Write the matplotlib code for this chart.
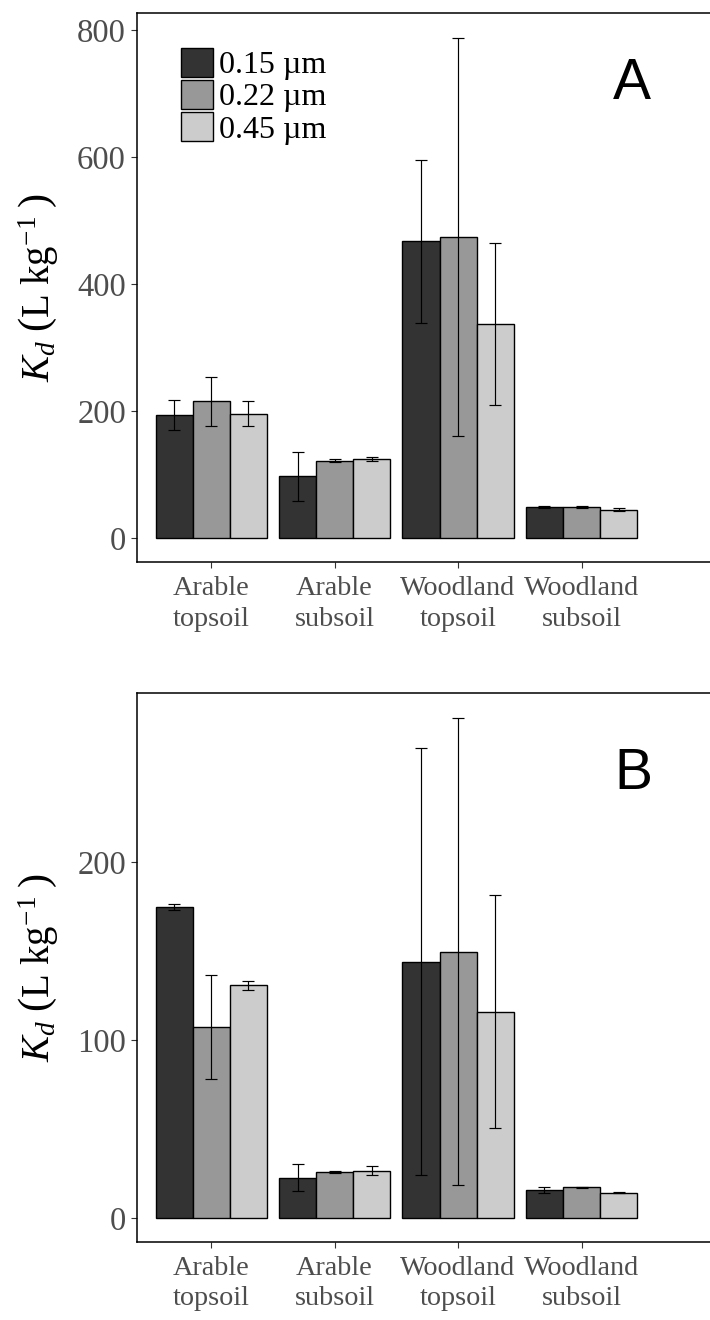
import numpy as np
import matplotlib
matplotlib.use('Agg')
import matplotlib.pyplot as plt

plt.rcParams['font.family'] = ['Liberation Serif', 'DejaVu Serif']
plt.rcParams['mathtext.fontset'] = 'custom'
plt.rcParams['mathtext.rm'] = 'Liberation Serif'
plt.rcParams['mathtext.it'] = 'Liberation Serif:italic'
plt.rcParams['mathtext.bf'] = 'Liberation Serif:bold'

# --- Data: Kd means and error bars per soil, by filter pore size ---
soils = ['Arable\ntopsoil', 'Arable\nsubsoil', 'Woodland\ntopsoil', 'Woodland\nsubsoil']
pore_sizes = ['0.15 µm', '0.22 µm', '0.45 µm']
fills = ['#333333', '#989898', '#CCCCCC']

# panel A
kd_a = [[194, 97, 467, 49.3],
        [215, 122, 474, 49.0],
        [196, 125, 337, 44.6]]
err_a = [[24, 39, 128, 1.5],
         [38, 2, 314, 1.0],
         [19, 3, 127, 2.5]]

# panel B
kd_b = [[175, 22.7, 144.2, 15.9],
        [107.6, 26.0, 149.7, 17.6],
        [131, 26.8, 116, 14.4]]
err_b = [[1.5, 7.6, 120, 1.5],
         [29.3, 0.5, 131.2, 0.3],
         [2.5, 2.7, 65.5, 0.3]]

W, H = 710, 1320
fig = plt.figure(figsize=(W / 100, H / 100), dpi=100)

left_px, right_px = 137, 720
x = np.arange(len(soils))
bw = 0.3
tick_grey = '#4D4D4D'

# zero-width stacked kerns make \left( \right) grow taller
ylab = (r'$K_{d}\ \left(\mathrm{L\ kg}^{-1}'
        r'\genfrac{}{}{0}{}{\,}{\,}\right)$')


def draw_panel(ax, vals, errs, ylim, yticks, tag, tag_xy, legend=False):
    handles = []
    for i, (v, e) in enumerate(zip(vals, errs)):
        pos = x + (i - 1) * bw
        h = ax.bar(pos, v, width=bw, color=fills[i], edgecolor='black',
                   linewidth=1.0, label=pore_sizes[i], zorder=2)
        handles.append(h)
        ax.errorbar(pos, v, yerr=e, fmt='none', ecolor='black',
                    elinewidth=0.85, capsize=4.4, capthick=0.85, zorder=3)

    ax.set_xlim(-0.6, (right_px - 211) / 123.5)
    ax.set_ylim(*ylim)
    ax.set_xticks(x)
    ax.set_xticklabels(soils, fontsize=20.3, color=tick_grey, linespacing=1.3)
    ax.set_yticks(yticks)
    ax.set_yticklabels([str(t) for t in yticks], fontsize=23.5, color=tick_grey)
    ax.tick_params(axis='both', length=4, width=0.8, color='#333333')
    ax.tick_params(axis='y', pad=4)
    ax.tick_params(axis='x', pad=6)
    for sp in ax.spines.values():
        sp.set_linewidth(1.1)
        sp.set_color('black')

    ax.set_ylabel(ylab, fontsize=28)
    ax.yaxis.set_label_coords(-0.13, 0.5)

    ax.text(tag_xy[0], tag_xy[1], tag, transform=ax.transAxes,
            fontsize=41, family='Liberation Sans', ha='center', va='center')

    if legend:
        ax.legend(handles=handles, loc='upper left',
                  bbox_to_anchor=(44 / (right_px - left_px), 1 - 35 / 549),
                  frameon=False, fontsize=23, borderpad=0, borderaxespad=0,
                  handlelength=1.0, handleheight=1.0, labelspacing=0.0,
                  handletextpad=0.2)


ax_w = (right_px - left_px) / W
ax_h = 549 / H
ax_a = fig.add_axes([left_px / W, 1 - 562 / H, ax_w, ax_h])
ax_b = fig.add_axes([left_px / W, 1 - 1241.7 / H, ax_w, ax_h])

draw_panel(ax_a, kd_a, err_a, (-37.8, 826.8), [0, 200, 400, 600, 800], 'A',
           ((632 - left_px) / (right_px - left_px), 1 - (84 - 13) / 549),
           legend=True)
draw_panel(ax_b, kd_b, err_b, (-13.1, 295.3), [0, 100, 200], 'B',
           ((633 - left_px) / (right_px - left_px), 1 - (774 - 692.7) / 549))

fig.savefig('out.png', dpi=100)
